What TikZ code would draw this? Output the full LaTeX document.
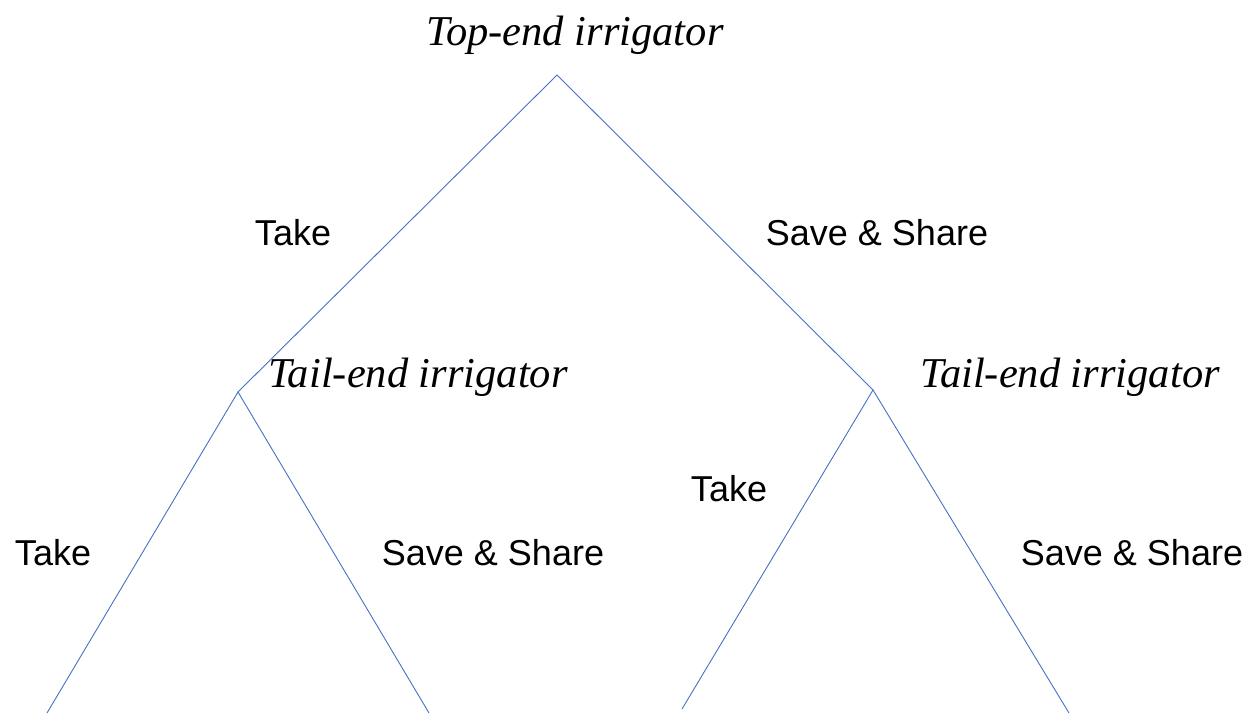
\documentclass[tikz,border=0pt]{standalone}
\usepackage{fontspec}
\setmainfont{Liberation Serif}
\setsansfont{Liberation Sans}
\definecolor{branch}{RGB}{68,114,196}
\begin{document}
\begin{tikzpicture}[x=1pt,y=-1pt,
  player/.style={font=\fontsize{42.5}{46}\selectfont\itshape, inner sep=0pt},
  move/.style={font=\fontsize{36}{42}\selectfont\sffamily, inner sep=0pt},
  edge/.style={draw=branch, line width=0.9pt}]
\useasboundingbox (0,0) rectangle (1250,715);
% decision points
\coordinate (root) at (557,75);
\coordinate (L) at (238,392);
\coordinate (R) at (873,390);
% terminal ends
\coordinate (LL) at (47,713);
\coordinate (LR) at (429,713);
\coordinate (RL) at (682,709);
\coordinate (RR) at (1069,713);
% branches
\draw[edge] (L) -- (root) -- (R);
\draw[edge] (LL) -- (L) -- (LR);
\draw[edge] (RL) -- (R) -- (RR);
% players
\node[player] (ptop) at (575,35) {Top-end irrigator};
\node[player] (pleft) at (418,377) {Tail-end irrigator};
\node[player] (pright) at (1070,377) {Tail-end irrigator};
% moves
\node[move] (m1) at (293,233) {Take};
\node[move] (m2) at (877,233) {Save \& Share};
\node[move] (m3) at (53,553) {Take};
\node[move] (m4) at (493,553) {Save \& Share};
\node[move] (m5) at (729,489) {Take};
\node[move] (m6) at (1132,553) {Save \& Share};
\end{tikzpicture}
\end{document}
